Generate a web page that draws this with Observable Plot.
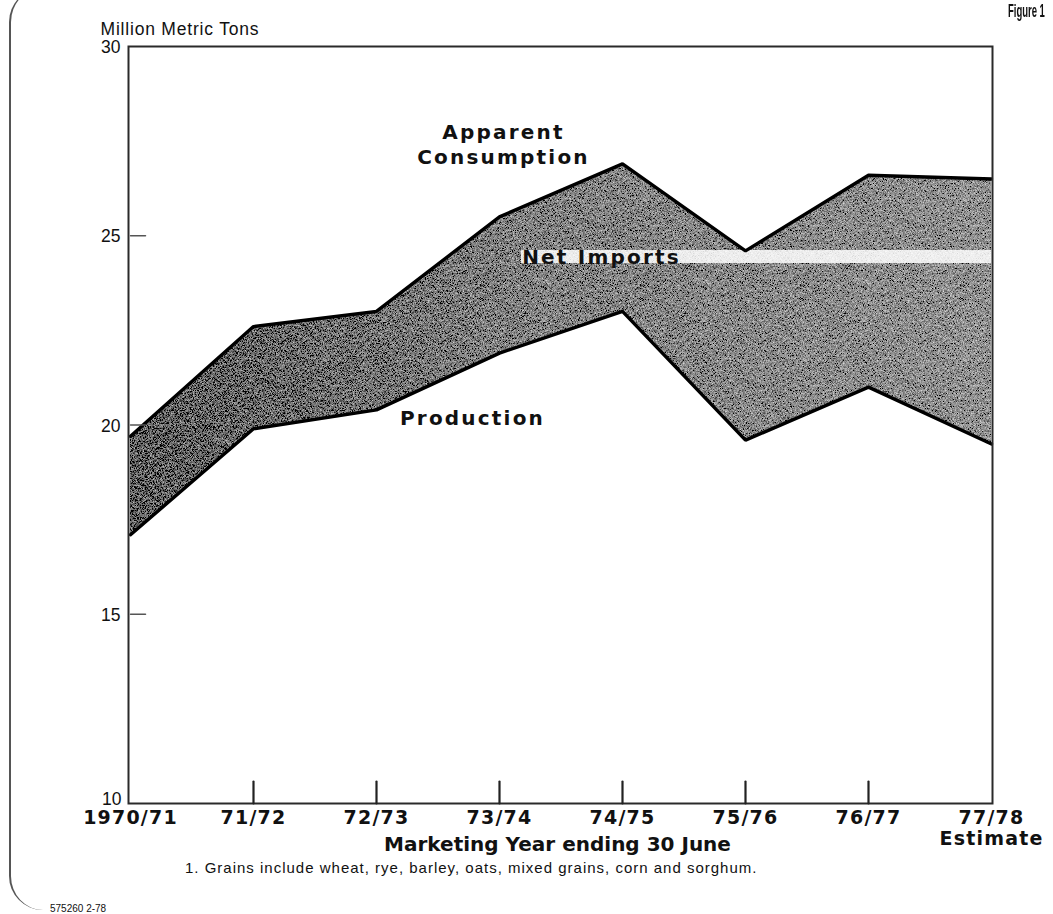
<!DOCTYPE html>
<html>
<head>
<meta charset="utf-8">
<script src="https://cdn.jsdelivr.net/npm/d3@7"></script>
<script src="https://cdn.jsdelivr.net/npm/@observablehq/plot@0.6"></script>
<style>
  html, body { margin: 0; padding: 0; background: #fff; }
  #wrap { position: relative; width: 1053px; height: 914px; overflow: hidden; }
  #chart { position: absolute; left: 0; top: 0; }
  .note { position: absolute; white-space: nowrap; color: #111; }
  #border { position: absolute; left: 9px; top: -12px; width: 400px; height: 922px;
            border-left: 2px solid #555; border-radius: 34px 0 0 34px; }
  #chart .wide text { letter-spacing: 2.2px; }
  #chart .xticks text { letter-spacing: 1.2px; }
  #chart .ytitle text { letter-spacing: 0.8px; }
</style>
</head>
<body>
<div id="wrap">
  <div id="border"></div>
  <div id="chart"></div>
  <div class="note" style="right:8px; top:0px; font-family:'Liberation Sans',sans-serif; font-weight:bold; font-size:19px; transform:scaleX(0.5); transform-origin:right top;">Figure 1</div>
  <div class="note" style="left:185px; top:859px; font-family:'Liberation Sans',sans-serif; font-size:15px; letter-spacing:1px;">1. Grains include wheat, rye, barley, oats, mixed grains, corn and sorghum.</div>
  <div class="note" style="left:50px; top:903px; font-family:'Liberation Sans',sans-serif; font-size:10px;">575260 2-78</div>
</div>
<script>
// ---- data ----
const categories = ["1970/71", "71/72", "72/73", "73/74", "74/75", "75/76", "76/77", "77/78"];
const tickLabels = ["1970/71", "71/72", "72/73", "73/74", "74/75", "75/76", "76/77", "77/78\nEstimate"];
const consumption = [19.7, 22.6, 23.0, 25.5, 26.9, 24.6, 26.6, 26.5];
const production = [17.1, 19.9, 20.4, 21.9, 23.0, 19.6, 21.0, 19.5];
const yTicks = [15, 20, 25, 30];
const yBottomTick = [10];
const yInnerTicks = [15, 20, 25];
const xInnerTicks = ["71/72", "72/73", "73/74", "74/75", "75/76", "76/77"];
const yAxisTitle = "Million Metric Tons";
const xAxisTitle = "Marketing Year ending 30 June";
const consumptionLabel = [{text: "Apparent\nConsumption", x: "73/74", y: 27.43}];
const importsLabel = [{text: "Net Imports", x: "74/75", y: 24.45, from: "73/74", to: "77/78"}];
const productionLabel = [{text: "Production", x: "73/74", y: 20.2}];

const table = categories.map((c, i) => ({cat: c, cons: consumption[i], prod: production[i]}));
const labelOf = new Map(categories.map((c, i) => [c, tickLabels[i]]));

const boldFont = "DejaVu Sans";
const plainFont = "Liberation Sans";

// tick shape without arrowhead
const tickUp = {draw(context, l) { context.moveTo(0, 0); context.lineTo(0, -l); }};

const labelStyle = {x: "x", y: "y", text: "text", fontSize: 20, fontWeight: "bold", fontFamily: boldFont, lineHeight: 1.22, className: "wide"};

const chart = Plot.plot({
  width: 1053,
  height: 914,
  marginLeft: 128,
  marginRight: 61,
  marginTop: 46,
  marginBottom: 111,
  style: {background: "transparent", color: "#111"},
  x: {type: "point", domain: categories, padding: 0},
  y: {domain: [10, 30]},
  marks: [
    Plot.areaY(table, {x: "cat", y1: "prod", y2: "cons", fill: "url(#texfill)", className: "band"}),
    // light scanner streak behind the "Net Imports" label
    Plot.ruleY(importsLabel, {y: "y", x1: "from", x2: "to", dx: 22, stroke: "#fff", strokeOpacity: 0.85, strokeWidth: 13}),
    Plot.lineY(table, {x: "cat", y: "cons", stroke: "#000", strokeWidth: 3.4, strokeLinejoin: "miter"}),
    Plot.lineY(table, {x: "cat", y: "prod", stroke: "#000", strokeWidth: 3.4, strokeLinejoin: "miter"}),
    Plot.frame({stroke: "#2a2a2a", strokeWidth: 2}),
    Plot.vector(xInnerTicks, {x: d => d, y: () => 10, length: 22, anchor: "start", shape: tickUp, stroke: "#222", strokeWidth: 2.2}),
    Plot.vector(yInnerTicks, {x: () => categories[0], y: d => d, rotate: 90, length: 15, anchor: "start", shape: tickUp, stroke: "#555", strokeWidth: 1.5}),
    Plot.axisY({ticks: yTicks, tickSize: 0, tickPadding: 8, dy: 1, fontSize: 17.5, fontFamily: plainFont, label: null}),
    Plot.axisY({ticks: yBottomTick, tickSize: 0, tickPadding: 7, dy: -4, fontSize: 17.5, fontFamily: plainFont, label: null}),
    Plot.axisX({ticks: categories, tickFormat: d => labelOf.get(d), tickSize: 0, tickPadding: 6,
      fontSize: 19, fontWeight: "bold", fontFamily: boldFont, lineHeight: 1.08, label: null, className: "xticks"}),
    Plot.text([xAxisTitle], {frameAnchor: "bottom", dy: 47, dx: -3, fontSize: 20, fontWeight: "bold", fontFamily: boldFont}),
    Plot.text([yAxisTitle], {frameAnchor: "top-left", textAnchor: "start", dx: -28, dy: -24, fontSize: 17.5, fontFamily: plainFont, className: "ytitle"}),
    Plot.text(consumptionLabel, {...labelStyle, dx: 4}),
    Plot.text(importsLabel, {...labelStyle, dx: -21}),
    Plot.text(productionLabel, {...labelStyle, dx: -27}),
  ]
});

// texture definition for the shaded band (grey halftone look)
const svg = d3.select(chart);
const defs = svg.insert("defs", ":first-child");
const grad = defs.append("linearGradient").attr("id", "texfill").attr("x1", "0").attr("x2", "1").attr("y1", "0").attr("y2", "0");
grad.append("stop").attr("offset", "0").attr("stop-color", "#626262");
grad.append("stop").attr("offset", "0.45").attr("stop-color", "#848484");
grad.append("stop").attr("offset", "1").attr("stop-color", "#939393");
const filt = defs.append("filter").attr("id", "grain").attr("x", "0").attr("y", "0").attr("width", "1").attr("height", "1");
filt.append("feTurbulence").attr("type", "fractalNoise").attr("baseFrequency", "1.6").attr("numOctaves", "1").attr("seed", "4").attr("result", "n");
filt.append("feColorMatrix").attr("in", "n").attr("type", "matrix")
  .attr("values", "0.33 0.33 0.33 0 0  0.33 0.33 0.33 0 0  0.33 0.33 0.33 0 0  0 0 0 0 1").attr("result", "g");
filt.append("feComposite").attr("in", "SourceGraphic").attr("in2", "g").attr("operator", "arithmetic")
  .attr("k1", "0").attr("k2", "1").attr("k3", "2.2").attr("k4", "-1.1").attr("result", "s");
filt.append("feComposite").attr("in", "s").attr("in2", "SourceGraphic").attr("operator", "in");
svg.selectAll(".band path").attr("filter", "url(#grain)");

document.getElementById("chart").appendChild(chart);
</script>
</body>
</html>
